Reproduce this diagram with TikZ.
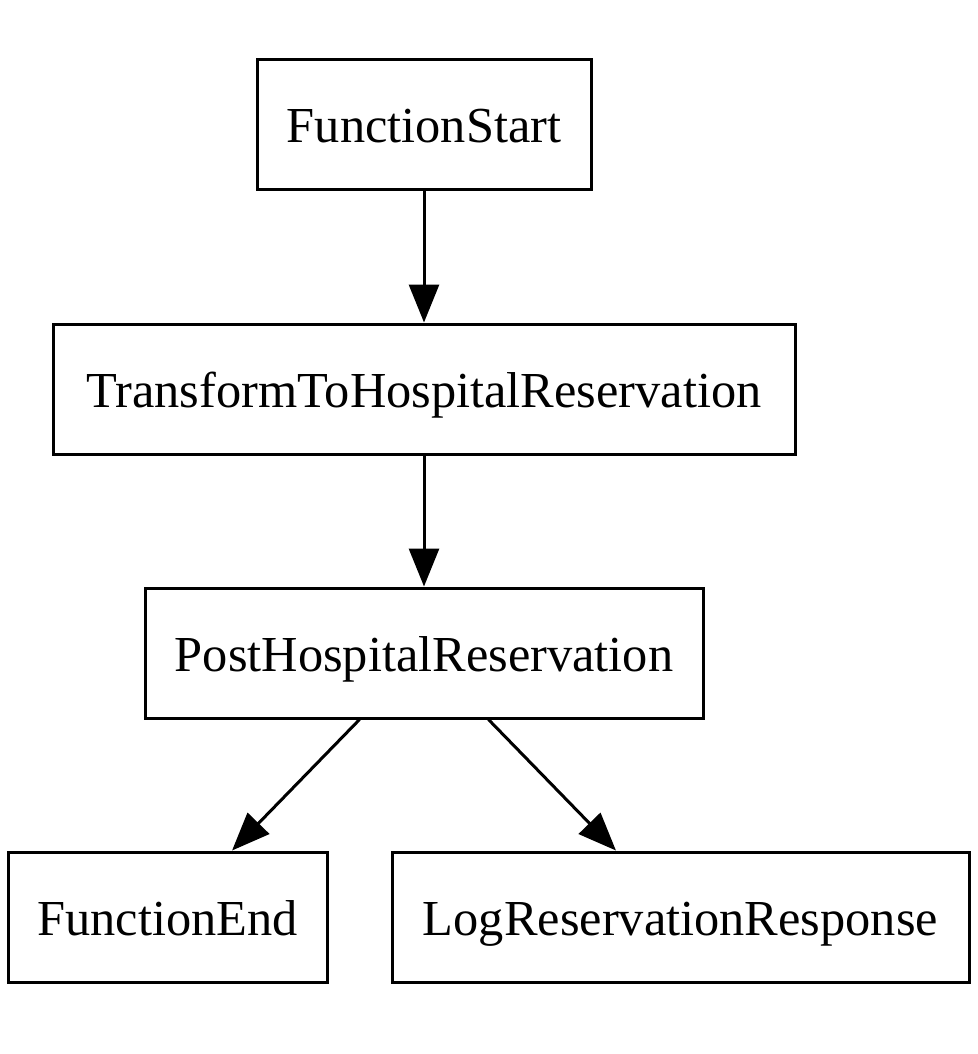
\documentclass[tikz,border=0pt]{standalone}
\usepackage{fontspec}
\setmainfont{Liberation Serif}
\usetikzlibrary{arrows.meta}
\begin{document}
\begin{tikzpicture}[x=1pt,y=-1pt,
  box/.style={draw=black, line width=3pt, inner sep=0pt, text height=46pt, text depth=10pt, font=\fontsize{50.4}{60}\selectfont},
  conn/.style={draw=black, line width=3pt, -{Triangle[length=38pt,width=30pt]}}]
\useasboundingbox[fill=white] (0,0) rectangle (977,1054);
\node[box, minimum width=334pt, minimum height=129pt] (fs) at (424,124.5) {FunctionStart};
\node[box, minimum width=742pt, minimum height=130pt] (tr) at (424,389) {TransformToHospitalReservation};
\node[box, minimum width=558pt, minimum height=130pt] (post) at (424,653) {PostHospitalReservation};
\node[box, minimum width=319pt, minimum height=130pt] (fe) at (167.5,917) {FunctionEnd};
\node[box, minimum width=577pt, minimum height=130pt] (log) at (680.5,917) {LogReservationResponse};
\draw[conn] (fs) -- (tr);
\draw[conn] (tr) -- (post);
\draw[conn] (post) -- (fe);
\draw[conn] (post) -- (log);
\end{tikzpicture}
\end{document}
